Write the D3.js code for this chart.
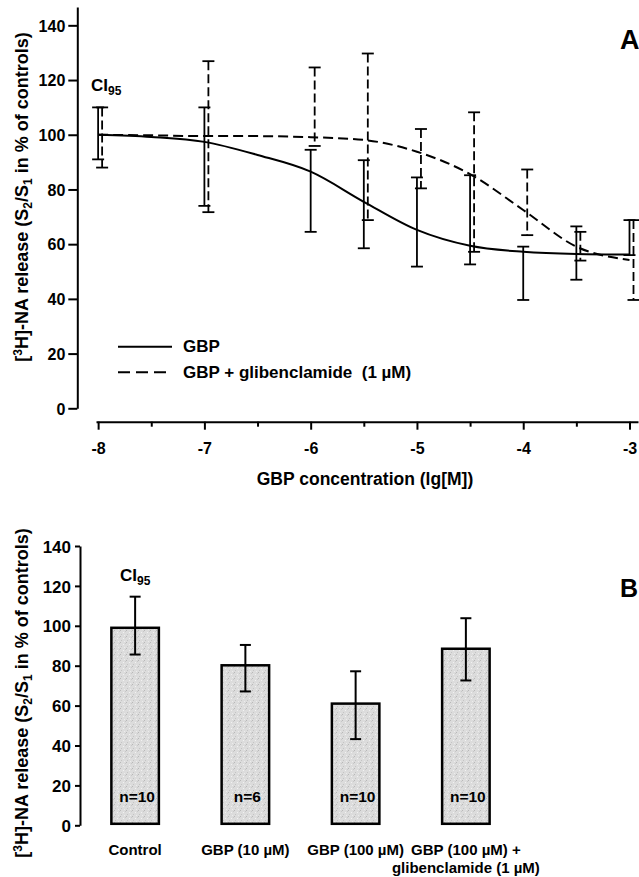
<!DOCTYPE html>
<html>
<head>
<meta charset="utf-8">
<script src="https://cdn.jsdelivr.net/npm/d3@7"></script>
<style>
  body { margin: 0; background: #fff; }
  svg { display: block; font-family: "Liberation Sans", Arial, sans-serif; font-weight: bold; }
</style>
</head>
<body>
<svg id="canvas" width="639" height="877"></svg>
<script>
'use strict';

// Panel A: concentration (lg M) and CI95 limits
const concA = [-8, -7, -6, -5.5, -5, -4.5, -4, -3.5, -3];
const gbpLow = [91, 74, 64.5, 58.5, 51.8, 52.6, 39.6, 47, 56];
const gbpHigh = [110, 110, 94.5, 90.7, 84.4, 85.2, 59.1, 66.5, 68.8];
const glibLow = [88, 71.7, 95.9, 68.8, 80.4, 57.2, 63.3, 54, 39.6];
const glibHigh = [110, 126.9, 124.6, 129.7, 102.1, 108.2, 87.3, 64.5, 68.8];

// fitted curves
const fitConc = [-8, -7.5, -7, -6.5, -6, -5.5, -5, -4.5, -4, -3.5, -3];
const gbpFit = [100, 99.2, 97.4, 92.6, 86.5, 75.5, 65.2, 59.4, 57.2, 56.4, 56.2];
const glibFit = [100, 99.8, 99.5, 99.5, 99.1, 98.1, 93.8, 85.6, 72.5, 59.1, 54.2];

const xTicksA = [-8, -7, -6, -5, -4, -3];
const xMinorA = [-7.5, -6.5, -5.5, -4.5, -3.5];
const yTicks = [0, 20, 40, 60, 80, 100, 120, 140];

// Panel B
const groups = ['Control', 'GBP (10 µM)', 'GBP (100 µM)', 'GBP (100 µM) +\nglibenclamide (1 µM)'];
const means = [99, 80.2, 61, 88.5];
const ciLow = [85.6, 67.1, 43.2, 72.6];
const ciHigh = [114.6, 90.4, 77.2, 103.8];
const nCounts = [10, 6, 10, 10];

document.addEventListener('DOMContentLoaded', function() {
    const svg = d3.select('#canvas');

    // stipple texture for the bars
    const pat = svg.append('defs').append('pattern')
        .attr('id', 'stipple')
        .attr('width', 6).attr('height', 6)
        .attr('patternUnits', 'userSpaceOnUse');
    pat.append('rect').attr('width', 6).attr('height', 6).attr('fill', '#dcdcdc');
    [[0, 0, '#b8b8b8'], [3, 2, '#f2f2f2'], [1, 4, '#c4c4c4'], [4, 5, '#ececec'], [5, 1, '#c8c8c8']]
        .forEach(function(p) {
            pat.append('rect').attr('x', p[0]).attr('y', p[1])
                .attr('width', 1).attr('height', 1).attr('fill', p[2]);
        });

    function yTitle(cx, cy) {
        const t = svg.append('text')
            .attr('transform', 'translate(' + cx + ',' + cy + ') rotate(-90)')
            .attr('text-anchor', 'middle')
            .attr('font-size', 18);
        t.append('tspan').text('[');
        t.append('tspan').attr('font-size', 12).attr('dy', -6).text('3');
        t.append('tspan').attr('dy', 6).text('H]-NA release (S');
        t.append('tspan').attr('font-size', 12).attr('dy', 4).text('2');
        t.append('tspan').attr('dy', -4).text('/S');
        t.append('tspan').attr('font-size', 12).attr('dy', 4).text('1');
        t.append('tspan').attr('dy', -4).text(' in % of controls)');
    }

    function ciLabel(x, y) {
        const t = svg.append('text').attr('x', x).attr('y', y).attr('font-size', 17);
        t.append('tspan').text('CI');
        t.append('tspan').attr('font-size', 12).attr('dy', 4).text('95');
    }

    // ---------- Panel A ----------
    const xA = d3.scaleLinear().domain([-8.02, -2.92]).range([96, 638]);
    const yA = d3.scaleLinear().domain([0, 146.7]).range([408.3, 7]);

    const axA = svg.append('g')
        .attr('transform', 'translate(77.3,0)')
        .call(d3.axisLeft(yA).tickValues(yTicks).tickSize(9).tickSizeOuter(0).tickPadding(3));
    axA.selectAll('text').attr('font-size', 16).attr('font-family', null).attr('dy', '0.36em');

    const axX = svg.append('g')
        .attr('transform', 'translate(0,421.7)')
        .call(d3.axisBottom(xA).tickValues(xTicksA).tickSize(8).tickSizeOuter(0).tickPadding(13)
            .tickFormat(function(d) { return String(d); }));
    axX.selectAll('text').attr('font-size', 16).attr('font-family', null);
    svg.append('g')
        .attr('transform', 'translate(0,421.7)')
        .call(d3.axisBottom(xA).tickValues(xMinorA).tickSize(5).tickFormat(''))
        .select('.domain').remove();

    svg.selectAll('.domain').attr('stroke-width', 2);
    svg.selectAll('.tick line').attr('stroke-width', 2);

    const line = d3.line()
        .x(function(d) { return xA(d[0]); })
        .y(function(d) { return yA(d[1]); })
        .curve(d3.curveMonotoneX);

    svg.append('path')
        .datum(d3.zip(fitConc, gbpFit))
        .attr('d', line)
        .attr('fill', 'none').attr('stroke', '#000').attr('stroke-width', 2);

    svg.append('path')
        .datum(d3.zip(fitConc, glibFit))
        .attr('d', line)
        .attr('fill', 'none').attr('stroke', '#000').attr('stroke-width', 2)
        .attr('stroke-dasharray', '10,5');

    function errorBars(lo, hi, dodge, dash) {
        const g = svg.append('g')
            .attr('stroke', '#000').attr('stroke-width', 1.8).attr('fill', 'none');
        const data = concA.map(function(c, i) { return { c: c, lo: lo[i], hi: hi[i] }; });
        g.selectAll('line.v').data(data).enter().append('line')
            .attr('class', 'v')
            .attr('x1', function(d) { return xA(d.c) + dodge; })
            .attr('x2', function(d) { return xA(d.c) + dodge; })
            .attr('y1', function(d) { return yA(d.hi); })
            .attr('y2', function(d) { return yA(d.lo); })
            .attr('stroke-dasharray', dash);
        ['hi', 'lo'].forEach(function(k) {
            g.selectAll('line.' + k).data(data).enter().append('line')
                .attr('class', k)
                .attr('x1', function(d) { return xA(d.c) + dodge - 6; })
                .attr('x2', function(d) { return xA(d.c) + dodge + 6; })
                .attr('y1', function(d) { return yA(d[k]); })
                .attr('y2', function(d) { return yA(d[k]); });
        });
    }
    errorBars(gbpLow, gbpHigh, 0, null);
    errorBars(glibLow, glibHigh, 4, '9,4');

    ciLabel(91, 91);

    // legend
    svg.append('line').attr('x1', 118).attr('x2', 172).attr('y1', 346.7).attr('y2', 346.7)
        .attr('stroke', '#000').attr('stroke-width', 2);
    svg.append('line').attr('x1', 118).attr('x2', 172).attr('y1', 372.3).attr('y2', 372.3)
        .attr('stroke', '#000').attr('stroke-width', 2).attr('stroke-dasharray', '12,6');
    svg.append('text').attr('x', 183).attr('y', 352).attr('font-size', 17).text('GBP');
    svg.append('text').attr('x', 183).attr('y', 377.5).attr('font-size', 17)
        .attr('xml:space', 'preserve').text('GBP + glibenclamide  (1 µM)');

    svg.append('text').attr('x', 365).attr('y', 485).attr('text-anchor', 'middle')
        .attr('font-size', 17.5).text('GBP concentration (lg[M])');
    svg.append('text').attr('x', 620).attr('y', 49).attr('font-size', 27).text('A');
    yTitle(28, 197);

    // ---------- Panel B ----------
    const xB = d3.scalePoint().domain(groups).range([80, 521]).padding(0.5);
    const yB = d3.scaleLinear().domain([0, 140]).range([825.3, 546]);
    const barW = 47.5;

    const axB = svg.append('g')
        .attr('transform', 'translate(80,0)')
        .call(d3.axisLeft(yB).tickValues(yTicks).tickSize(5).tickSizeOuter(0).tickPadding(4));
    axB.selectAll('text').attr('font-size', 17).attr('font-family', null).attr('dy', '0.36em');
    axB.select('.domain').attr('stroke-width', 2);
    axB.selectAll('.tick line').attr('stroke-width', 2);

    const bdata = groups.map(function(g, i) {
        return { g: g, m: means[i], lo: ciLow[i], hi: ciHigh[i], n: nCounts[i] };
    });

    svg.selectAll('rect.bar').data(bdata).enter().append('rect')
        .attr('class', 'bar')
        .attr('x', function(d) { return xB(d.g) - barW / 2; })
        .attr('width', barW)
        .attr('y', function(d) { return yB(d.m); })
        .attr('height', function(d) { return yB(0) - yB(d.m) - 1.5; })
        .attr('fill', 'url(#stipple)')
        .attr('stroke', '#000').attr('stroke-width', 2.5);

    const eb = svg.append('g').attr('stroke', '#000').attr('stroke-width', 2);
    eb.selectAll('line.v').data(bdata).enter().append('line')
        .attr('x1', function(d) { return xB(d.g); })
        .attr('x2', function(d) { return xB(d.g); })
        .attr('y1', function(d) { return yB(d.hi); })
        .attr('y2', function(d) { return yB(d.lo); });
    ['hi', 'lo'].forEach(function(k) {
        eb.selectAll('line.' + k).data(bdata).enter().append('line')
            .attr('x1', function(d) { return xB(d.g) - 5.5; })
            .attr('x2', function(d) { return xB(d.g) + 5.5; })
            .attr('y1', function(d) { return yB(d[k]); })
            .attr('y2', function(d) { return yB(d[k]); });
    });

    svg.selectAll('text.n').data(bdata).enter().append('text')
        .attr('x', function(d) { return xB(d.g) + 2; })
        .attr('y', 801.7)
        .attr('text-anchor', 'middle')
        .attr('font-size', 15.5)
        .text(function(d) { return 'n=' + d.n; });

    const xl = svg.selectAll('text.xl').data(bdata).enter().append('text')
        .attr('text-anchor', 'middle')
        .attr('font-size', 15);
    xl.each(function(d) {
        const t = d3.select(this);
        d.g.split('\n').forEach(function(s, i) {
            t.append('tspan').attr('x', xB(d.g)).attr('y', 855 + i * 17.7).text(s);
        });
    });

    ciLabel(120, 581);
    svg.append('text').attr('x', 620).attr('y', 597).attr('font-size', 25).text('B');
    yTitle(28, 693);
}, false);
</script>
</body>
</html>
